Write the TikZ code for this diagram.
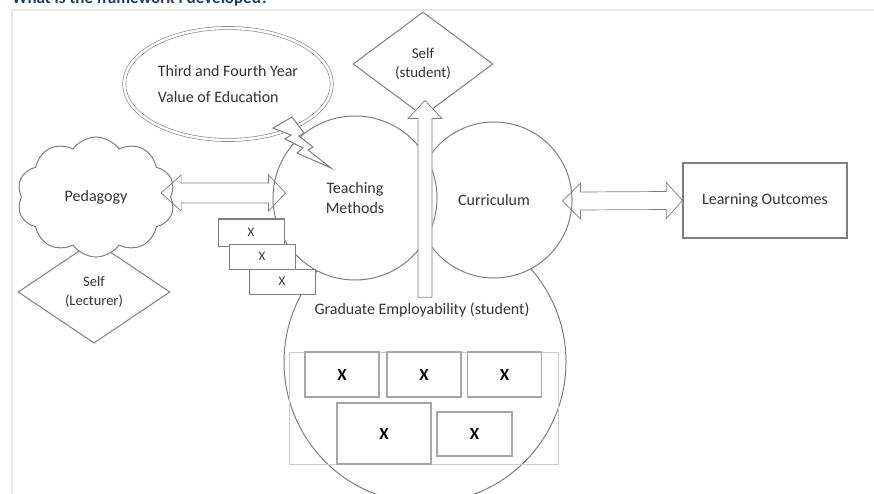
\documentclass[tikz,border=0pt]{standalone}
\usepackage{fontspec}
\setmainfont{Carlito}
\usepackage{tikz}
\usetikzlibrary{calc,positioning,shapes.geometric,shapes.symbols}
\definecolor{TitleBlue}{HTML}{1F3A6E}
\definecolor{LineGray}{HTML}{7E7E7E}
\definecolor{TextGray}{HTML}{333333}

\begin{document}
\begin{tikzpicture}[x=1pt,y=-1pt,
    outline/.style={draw=LineGray, line width=1pt},
    lbl/.style={text=TextGray, font=\fontsize{16}{20}\selectfont, align=center},
    xbox/.style={outline, fill=white, minimum width=66pt, minimum height=25pt, inner sep=0pt,
      text=TextGray, font=\fontsize{13}{14}\selectfont},
    gbox/.style={draw=gray!70, line width=1.1pt, inner sep=0pt, font=\bfseries\fontsize{17}{18}\selectfont},
    blockarrow/.style={draw=LineGray, line width=0.7pt, line join=miter}]
    \useasboundingbox (0,0) rectangle (874,494);

    % page frame and cut-off heading
    \draw[gray!20, line width=1.5pt] (12,494) -- (12,10) -- (874,10);
    \node[anchor=base west, inner sep=0pt, text=TitleBlue, font=\bfseries\fontsize{17}{20}\selectfont] (title) at (12,4) {What is the framework I developed?};

    \node[ellipse, draw=LineGray, line width=0.6pt, double=white, double distance=2.5pt,
      minimum width=174pt, minimum height=112pt, lbl, align=left, font=\fontsize{16}{26}\selectfont] (value) at (228,84)
      {Third and Fourth Year\\Value of Education};

    % left side
    \node[diamond, outline, minimum width=152pt, minimum height=102pt, lbl, font=\fontsize{14.5}{19}\selectfont] (selflect) at (94,292) {Self\\(Lecturer)};
    \node[cloud, cloud puffs=10, cloud puff arc=110, cloud ignores aspect, outline, fill=white,
      minimum width=158pt, minimum height=120pt, lbl] (pedagogy) at (96,197) {Pedagogy};

    \node[diamond, outline, minimum width=140pt, minimum height=104pt, lbl, font=\fontsize{15}{19}\selectfont] (selfstud) at (423,64) {Self\\(student)};

    % the three circles
    \node[circle, outline, minimum size=282pt] (grad) at (425,362) {};
    \node[lbl] (gradlbl) at (422,310) {Graduate Employability (student)};
    \node[circle, outline, fill=white, minimum size=156pt, lbl] (curr) at (494,200) {Curriculum};
    \node[circle, outline, fill=white, minimum size=164pt, lbl] (teach) at (355,198) {Teaching\\Methods};

    % arrow up to Self (student)
    \coordinate (upfoot) at ($(gradlbl.north)+(3,-2)$);
    \coordinate (uptip) at ($(selfstud.south)+(2,-16)$);
    \draw[blockarrow, fill=white] ($(upfoot)+(-7,0)$) -- ($(uptip)+(-7,18)$) -- ++(-10,0) -- (uptip)
      -- ($(uptip)+(17,18)$) -- ++(-10,0) -- ($(upfoot)+(7,0)$) -- cycle;

    % lightning bolt
    \draw[outline, fill=white, line join=miter] (273,128) -- (292,117) -- (304,133) -- (299,136) -- (313,147)
      -- (308,150) -- (331,168) -- (297,153) -- (303,148) -- (285,139) -- (291,135) -- cycle;

    % double arrows
    \coordinate (pedtip) at ($(pedagogy.east)+(-10,-4)$);
    \coordinate (teachtip) at ($(teach.west)+(13,-5)$);
    \draw[blockarrow] (pedtip) -- ++(20,-18) -- ++(0,8) -- ($(teachtip)+(-17,-10)$) -- ++(0,-8) -- (teachtip)
      -- ++(-17,18) -- ++(0,-8) -- ($(pedtip)+(20,10)$) -- ++(0,8) -- cycle;

    \node[draw=LineGray, line width=1.3pt, minimum width=164pt, minimum height=75pt, lbl] (outcomes) at (765,200.5) {Learning Outcomes};
    \coordinate (currtip) at ($(curr.east)+(-10,1)$);
    \coordinate (outtip) at (outcomes.west);
    \draw[blockarrow] (currtip) -- ++(18,-18) -- ++(0,9) -- ($(outtip)+(-16,-9)$) -- ++(0,-9) -- (outtip)
      -- ++(-16,18) -- ++(0,-9) -- ($(currtip)+(18,9)$) -- ++(0,9) -- cycle;

    % stacked X boxes
    \node[xbox, minimum height=27pt] (xa) at (251,232.5) {X};
    \node[xbox] (xb) at (262,256.5) {X};
    \node[xbox] (xc) at (282,281.5) {X};

    % X panel inside Graduate Employability
    \node[draw=gray!40, line width=1pt, minimum width=269pt, minimum height=112pt] (panel) at (423.5,408) {};
    \foreach \i/\cx in {1/342,2/424,3/504.5}
        \node[gbox, minimum width=74pt, minimum height=45pt] (g\i) at (\cx,374.5) {X};
    \node[gbox, minimum width=94pt, minimum height=61pt] (g4) at (384,433.5) {X};
    \node[gbox, minimum width=75pt, minimum height=44pt] (g5) at (474.5,434) {X};
\end{tikzpicture}
\end{document}
